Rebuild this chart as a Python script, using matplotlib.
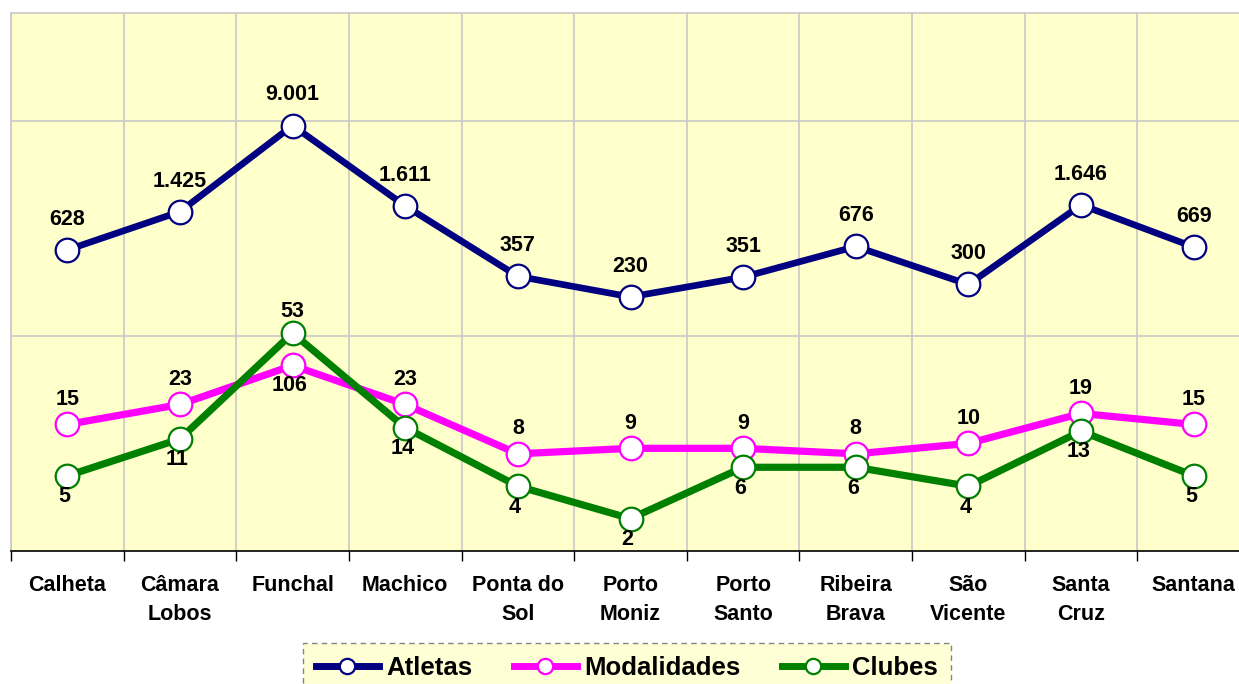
import matplotlib.pyplot as plt
from matplotlib.lines import Line2D

# data
municipios = ["Calheta", "Câmara\nLobos", "Funchal", "Machico", "Ponta do\nSol",
              "Porto\nMoniz", "Porto\nSanto", "Ribeira\nBrava", "São\nVicente",
              "Santa\nCruz", "Santana"]
atletas = [628, 1425, 9001, 1611, 357, 230, 351, 676, 300, 1646, 669]
modalidades = [15, 23, 53, 23, 8, 9, 9, 8, 10, 19, 15]
clubes = [5, 11, 106, 14, 4, 2, 6, 6, 4, 13, 5]

NAVY = "#000080"
MAGENTA = "#FF00FF"
GREEN = "#008000"
BG = "#FFFFCC"

plt.rcParams["font.family"] = ["Liberation Sans", "DejaVu Sans"]
plt.rcParams["font.weight"] = "bold"

fig = plt.figure(figsize=(12.39, 6.84), dpi=100)
# plot area runs past the right edge of the image, as in the original
ax = fig.add_axes([11 / 1239, 133 / 684, 1239 / 1239, 538 / 684])
ax.set_facecolor(BG)

x = list(range(len(municipios)))


def fmt(v):
    return f"{v:,}".replace(",", ".")


series = [
    ("Atletas", atletas, NAVY, 4.8),
    ("Modalidades", modalidades, MAGENTA, 5.2),
    ("Clubes", clubes, GREEN, 5.2),
]
for name, vals, col, lw in series:
    ax.plot(x, vals, color=col, lw=lw, marker="o", ms=17, mfc="white",
            mec=col, mew=1.6, zorder=3, solid_capstyle="round")

LBL = 15.5
# data labels (offsets in points)
for i, v in enumerate(atletas):
    ax.annotate(fmt(v), (i, v), xytext=(0, 22), textcoords="offset points",
                ha="center", va="center", fontsize=LBL, fontweight="bold", zorder=5)
for i, v in enumerate(modalidades):
    dy = 18
    if municipios[i] == "Funchal":
        dy = 39
    ax.annotate(fmt(v), (i, v), xytext=(0, dy), textcoords="offset points",
                ha="center", va="center", fontsize=LBL, fontweight="bold", zorder=5)
for i, v in enumerate(clubes):
    dy = -15
    if municipios[i] == "Funchal":
        dy = -38
    ax.annotate(fmt(v), (i, v), xytext=(-2, dy), textcoords="offset points",
                ha="center", va="center", fontsize=LBL, fontweight="bold", zorder=5)

ax.set_yscale("log")
ax.set_ylim(1, 100000)
ax.set_xlim(-0.5, len(municipios) - 0.5)

ax.set_yticks([100, 10000])
ax.set_yticks([], minor=True)
ax.tick_params(axis="y", which="both", length=0, labelleft=False)
ax.yaxis.grid(True, color="#C8C8C8", lw=1.2)

bounds = [i - 0.5 for i in range(len(municipios) + 1)]
ax.set_xticks(bounds)
ax.set_xticklabels([])
ax.set_xticks(x, minor=True)
ax.set_xticklabels(municipios, minor=True, fontsize=15.5, fontweight="bold",
                   linespacing=1.5, va="top")
ax.tick_params(axis="x", which="major", length=7, width=1, color="black",
               direction="out")
ax.tick_params(axis="x", which="minor", length=0, pad=17)
ax.xaxis.grid(True, which="major", color="#C8C8C8", lw=1.2)
ax.set_axisbelow(True)

for s in ["left", "top", "right"]:
    ax.spines[s].set_color("#C8C8C8")
    ax.spines[s].set_linewidth(1.2)
ax.spines["bottom"].set_color("black")
ax.spines["bottom"].set_linewidth(1.2)

handles = [Line2D([], [], color=c, lw=5, marker="o", ms=11, mfc="white",
                  mec=c, mew=1.6) for _, _, c, lw in series]
leg = fig.legend(handles, [s[0] for s in series], loc="upper left",
                 bbox_to_anchor=(303 / 1239, 1 - 643 / 684), borderaxespad=0,
                 ncol=3, frameon=True, fancybox=False, handlelength=2.45,
                 handletextpad=0.3, columnspacing=1.6, borderpad=0.5,
                 prop={"weight": "bold", "size": 18.5})
frame = leg.get_frame()
frame.set_facecolor(BG)
frame.set_edgecolor("#666666")
frame.set_linestyle((0, (4, 3)))
frame.set_linewidth(1.0)

fig.savefig("out.png", dpi=100)
